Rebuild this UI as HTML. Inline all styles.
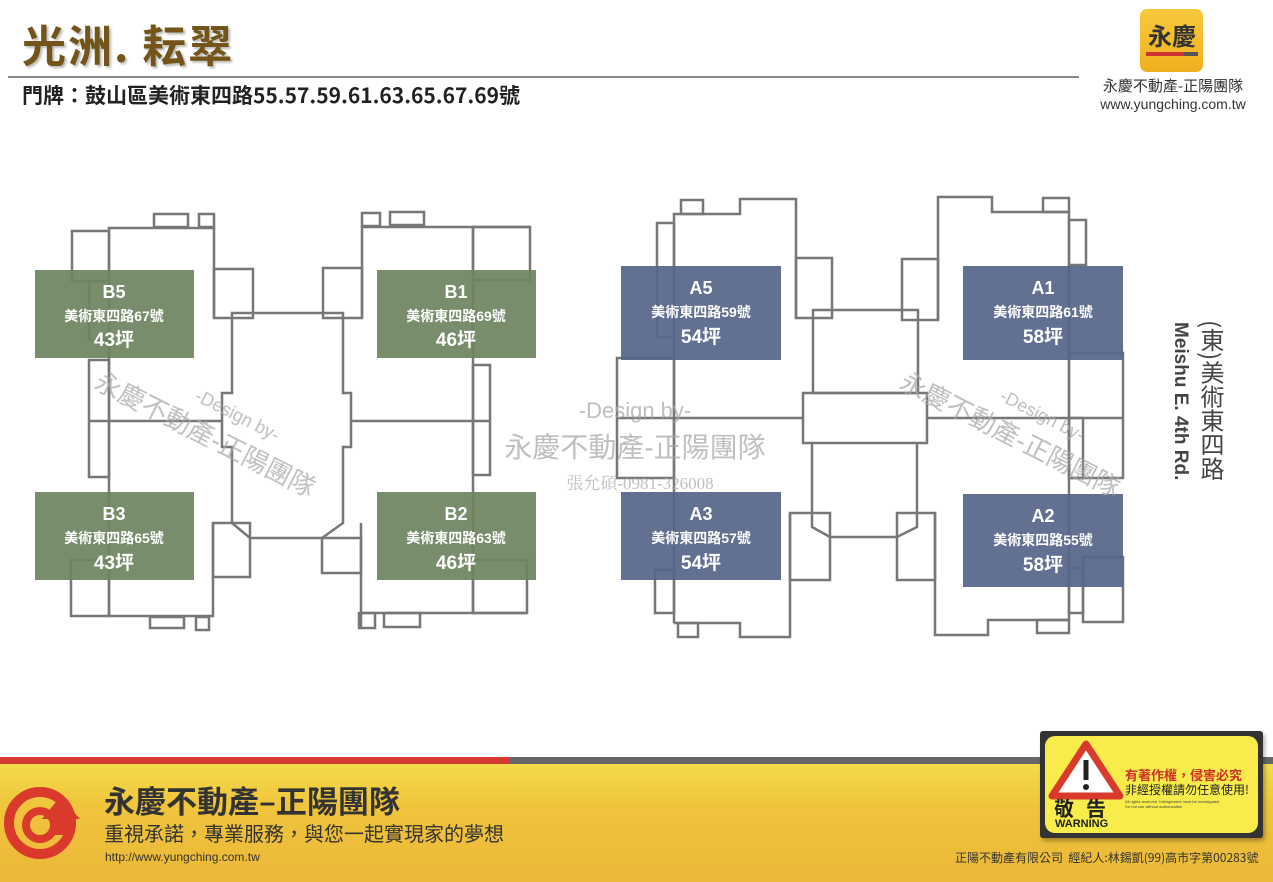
<!DOCTYPE html>
<html><head><meta charset="utf-8">
<style>
html,body{margin:0;padding:0;}
body{width:1273px;height:882px;position:relative;overflow:hidden;background:#fff;font-family:"Liberation Sans","Noto Sans CJK TC",sans-serif;}
.abs{position:absolute;}
</style></head><body>

<div class="abs" style="left:22px;top:14px;font-size:44px;font-weight:bold;color:#735519;letter-spacing:2px;text-shadow:2px 2px 2px #bbb;font-family:'Noto Sans CJK TC',sans-serif;line-height:58px;">光洲. 耘翠</div>
<div class="abs" style="left:8px;top:76px;width:1071px;height:2px;background:#888;"></div>
<div class="abs" style="left:22px;top:81px;font-size:21px;color:#222;font-weight:bold;line-height:28px;font-family:'Noto Sans CJK TC',sans-serif;">門牌：鼓山區美術東四路55.57.59.61.63.65.67.69號</div>

<div class="abs" style="left:1140px;top:9px;width:63px;height:63px;border-radius:7px;background:linear-gradient(#f8c93c,#f0b020);"></div>
<div class="abs" style="left:1143px;top:20px;width:58px;text-align:center;font-size:24px;font-weight:bold;color:#333;line-height:30px;font-family:'Noto Sans CJK TC',sans-serif;">永慶</div>
<div class="abs" style="left:1146px;top:52px;width:38px;height:4px;background:#c33;"></div>
<div class="abs" style="left:1184px;top:52px;width:14px;height:4px;background:#555;"></div>
<div class="abs" style="left:1088px;top:76px;width:170px;text-align:center;font-size:15px;color:#333;line-height:20px;font-family:'Noto Sans CJK TC',sans-serif;">永慶不動產-正陽團隊</div>
<div class="abs" style="left:1088px;top:95px;width:170px;text-align:center;font-size:14px;color:#333;line-height:18px;">www.yungching.com.tw</div>

<svg class="abs" style="left:0;top:0" width="1273" height="740" viewBox="0 0 1273 740">
<g fill="none" stroke="#777" stroke-width="2.5">
<polyline points="109,616 109,228 214,228 214,318"/>
<rect x="214" y="269" width="39" height="49"/>
<rect x="154" y="214" width="34" height="13"/>
<rect x="199" y="214" width="15" height="13"/>
<rect x="72" y="231" width="37" height="50"/>
<rect x="89" y="281" width="20" height="59"/>
<rect x="89" y="360" width="20" height="117"/>
<line x1="89" y1="421" x2="223" y2="421"/>
<line x1="351" y1="421" x2="489" y2="421"/>
<polygon points="232,313 343,313 343,393 351,393 351,447 343,447 343,523 322,538 250,538 232,523 232,447 222,447 222,393 232,393"/>
<rect x="71" y="560" width="38" height="56"/>
<polyline points="109,616 213,616 213,523"/>
<rect x="213" y="523" width="37" height="54"/>
<rect x="150" y="617" width="34" height="11"/>
<rect x="196" y="617" width="13" height="13"/>
<polyline points="362,318 362,227 530,227"/>
<rect x="323" y="268" width="39" height="50"/>
<rect x="473" y="227" width="57" height="53"/>
<line x1="473" y1="227" x2="473" y2="613"/>
<rect x="362" y="213" width="18" height="13"/>
<rect x="390" y="212" width="34" height="13"/>
<rect x="473" y="365" width="17" height="110"/>
<rect x="473" y="560" width="54" height="53"/>
<line x1="361" y1="613" x2="527" y2="613"/>
<rect x="322" y="538" width="39" height="35"/>
<line x1="361" y1="523" x2="361" y2="628"/>
<rect x="359" y="613" width="16" height="15"/>
<rect x="384" y="613" width="36" height="14"/>
<polyline points="674,623 674,214 740,214 740,199 796,199 796,318"/>
<rect x="796" y="258" width="36" height="60"/>
<rect x="681" y="200" width="22" height="14"/>
<rect x="657" y="223" width="17" height="114"/>
<rect x="617" y="358" width="57" height="120"/>
<line x1="617" y1="418" x2="803" y2="418"/>
<line x1="927" y1="418" x2="1123" y2="418"/>
<rect x="813" y="310" width="105" height="83"/>
<rect x="803" y="393" width="124" height="50"/>
<polyline points="812,443 812,527 830,537 897,537 917,527 917,443"/>
<rect x="790" y="513" width="40" height="67"/>
<polyline points="674,623 740,623 740,637 790,637 790,513"/>
<rect x="678" y="623" width="20" height="14"/>
<rect x="655" y="570" width="19" height="43"/>
<polyline points="938,320 938,197 992,197 992,212 1069,212 1069,620"/>
<rect x="1043" y="198" width="26" height="14"/>
<rect x="902" y="259" width="36" height="61"/>
<rect x="1069" y="220" width="17" height="45"/>
<rect x="1069" y="353" width="54" height="125"/>
<rect x="1069" y="418" width="14" height="60"/>
<rect x="897" y="513" width="38" height="67"/>
<polyline points="935,513 935,635 988,635 988,620 1069,620"/>
<rect x="1037" y="620" width="32" height="13"/>
<rect x="1083" y="557" width="40" height="65"/>
<rect x="1069" y="568" width="14" height="45"/>
</g>
<g fill="#6e8460" opacity="0.93">
<rect x="35" y="270" width="159" height="88"/>
<rect x="377" y="270" width="159" height="88"/>
<rect x="35" y="492" width="159" height="88"/>
<rect x="377" y="492" width="159" height="88"/>
</g>
<g fill="#56668a" opacity="0.93">
<rect x="621" y="266" width="160" height="94"/>
<rect x="963" y="266" width="160" height="94"/>
<rect x="621" y="492" width="160" height="88"/>
<rect x="963" y="494" width="160" height="93"/>
</g>
<g fill="#fff" font-family="Liberation Sans, Noto Sans CJK TC, sans-serif" font-weight="bold" text-anchor="middle">
<text x="114" y="298" font-size="18">B5</text><text x="114" y="321" font-size="14">美術東四路67號</text><text x="114" y="346" font-size="19">43坪</text>
<text x="456" y="298" font-size="18">B1</text><text x="456" y="321" font-size="14">美術東四路69號</text><text x="456" y="346" font-size="19">46坪</text>
<text x="114" y="520" font-size="18">B3</text><text x="114" y="543" font-size="14">美術東四路65號</text><text x="114" y="569" font-size="19">43坪</text>
<text x="456" y="520" font-size="18">B2</text><text x="456" y="543" font-size="14">美術東四路63號</text><text x="456" y="569" font-size="19">46坪</text>
<text x="701" y="294" font-size="18">A5</text><text x="701" y="317" font-size="14">美術東四路59號</text><text x="701" y="343" font-size="19">54坪</text>
<text x="1043" y="294" font-size="18">A1</text><text x="1043" y="317" font-size="14">美術東四路61號</text><text x="1043" y="343" font-size="19">58坪</text>
<text x="701" y="520" font-size="18">A3</text><text x="701" y="543" font-size="14">美術東四路57號</text><text x="701" y="569" font-size="19">54坪</text>
<text x="1043" y="522" font-size="18">A2</text><text x="1043" y="545" font-size="14">美術東四路55號</text><text x="1043" y="571" font-size="19">58坪</text>
</g>
<g fill="#aaa" opacity="0.75" font-family="Liberation Sans, Noto Sans CJK TC, sans-serif" text-anchor="middle">
<text x="635" y="418" font-size="22">-Design by-</text>
<text x="635" y="457" font-size="28">永慶不動產-正陽團隊</text>
<text x="640" y="489" font-size="17" font-family="Liberation Serif, Noto Serif CJK SC, serif">張允碩-0981-326008</text>
<g transform="translate(210,425) rotate(27)"><text x="20" y="-15" font-size="18">-Design by-</text><text x="0" y="20" font-size="26">永慶不動產-正陽團隊</text></g>
<g transform="translate(1015,425) rotate(27)"><text x="20" y="-15" font-size="18">-Design by-</text><text x="0" y="20" font-size="26">永慶不動產-正陽團隊</text></g>
</g>
</svg>

<div class="abs" style="left:1198px;top:320px;writing-mode:vertical-rl;font-size:24px;color:#444;line-height:28px;font-family:'Noto Sans CJK TC',sans-serif;">(東)美術東四路</div>
<div class="abs" style="left:1168px;top:322px;writing-mode:vertical-rl;font-size:19px;font-weight:bold;color:#444;line-height:24px;">Meishu E. 4th Rd.</div>

<div class="abs" style="left:0;top:757px;width:1273px;height:125px;background:linear-gradient(#f3e04a,#f0c43c 40%,#ebb838);"></div>
<div class="abs" style="left:0;top:757px;width:510px;height:7px;background:#d63a32;"></div>
<div class="abs" style="left:510px;top:757px;width:763px;height:7px;background:#666;"></div>
<svg class="abs" style="left:2px;top:775px" width="82" height="92" viewBox="0 0 82 92">
<circle cx="38" cy="48" r="31" fill="none" stroke="#d93a2c" stroke-width="10"/>
<circle cx="38" cy="50" r="14" fill="none" stroke="#d93a2c" stroke-width="8"/>
<polygon points="58,22 78,44 64,44 64,60 52,60 52,44 40,44" fill="#d93a2c"/>
</svg>
<div class="abs" style="left:104px;top:780px;font-size:31px;font-weight:bold;color:#333;line-height:40px;font-family:'Noto Sans CJK TC',sans-serif;">永慶不動產–正陽團隊</div>
<div class="abs" style="left:104px;top:820px;font-size:20px;color:#333;line-height:26px;font-family:'Noto Sans CJK TC',sans-serif;">重視承諾，專業服務，與您一起實現家的夢想</div>
<div class="abs" style="left:105px;top:849px;font-size:12px;color:#333;line-height:16px;">http://www.yungching.com.tw</div>
<div class="abs" style="left:955px;top:850px;font-size:12px;color:#333;line-height:16px;font-family:'Noto Sans CJK TC',sans-serif;">正陽不動產有限公司&nbsp; 經紀人:林錫凱(99)高市字第00283號</div>

<div class="abs" style="left:1040px;top:731px;width:223px;height:107px;background:#333;border-radius:3px;box-shadow:2px 3px 4px rgba(0,0,0,.3);"></div>
<div class="abs" style="left:1045px;top:736px;width:213px;height:97px;background:#f7ec4a;border-radius:10px;"></div>
<svg class="abs" style="left:1048px;top:740px" width="76" height="60" viewBox="0 0 76 60">
<polygon points="38,4 72,56 4,56" fill="#fff" stroke="#d93a2c" stroke-width="7" stroke-linejoin="round"/>
<rect x="35.5" y="20" width="5" height="20" fill="#222"/><circle cx="38" cy="47" r="3" fill="#222"/>
</svg>
<div class="abs" style="left:1054px;top:797px;font-size:20px;font-weight:bold;color:#222;line-height:22px;letter-spacing:12px;font-family:'Noto Sans CJK TC',sans-serif;">敬告</div>
<div class="abs" style="left:1055px;top:818px;font-size:11px;font-weight:bold;color:#222;line-height:12px;">WARNING</div>
<div class="abs" style="left:1125px;top:767px;font-size:13px;font-weight:bold;color:#d0302a;line-height:16px;font-family:'Noto Sans CJK TC',sans-serif;">有著作權，侵害必究</div>
<div class="abs" style="left:1125px;top:782px;font-size:12px;color:#222;line-height:15px;font-family:'Noto Sans CJK TC',sans-serif;">非經授權請勿任意使用!</div>
<div class="abs" style="left:1125px;top:799px;font-size:4px;color:#444;line-height:5px;">All rights reserved. Infringement must be investigated<br>Do not use without authorization</div>
</body></html>
